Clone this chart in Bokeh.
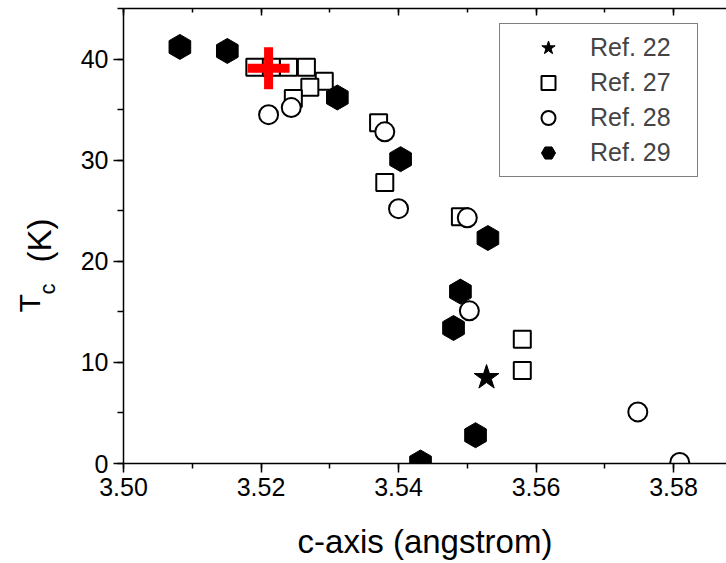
import numpy as np
from bokeh.plotting import figure
from bokeh.layouts import row
from bokeh.models import (Range1d, LinearAxis, SingleIntervalTicker, PrintfTickFormatter,
                          CustomJSTickFormatter, Legend, LegendItem)
from bokeh.core.properties import value
from bokeh.embed import file_html
from bokeh.resources import INLINE

# ---- data (c-axis in angstrom, Tc in K) ----
ref22_c = [3.5528]
ref22_tc = [8.5]

ref27_c = [3.5191, 3.5215, 3.5240, 3.5266, 3.5292, 3.5271, 3.5247,
           3.5371, 3.5380, 3.5490, 3.5580, 3.5580]
ref27_tc = [39.2, 39.2, 39.2, 39.2, 37.8, 37.2, 36.1,
            33.7, 27.8, 24.4, 12.3, 9.2]

ref28_c = [3.5211, 3.5244, 3.5380, 3.5400, 3.5500, 3.5503, 3.5748, 3.5809]
ref28_tc = [34.5, 35.2, 32.8, 25.2, 24.3, 15.1, 5.1, 0.1]

ref29_c = [3.5082, 3.5151, 3.5311, 3.5403, 3.5530, 3.5490, 3.5480, 3.5512, 3.5432]
ref29_tc = [41.2, 40.8, 36.2, 30.1, 22.3, 17.0, 13.4, 2.8, 0.1]

this_c = [3.5211]
this_tc = [39.1]

legend_labels = ["Ref. 22", "Ref. 27", "Ref. 28", "Ref. 29"]
x_label = "c-axis (angstrom)"
y_label_parts = ["T", "c", "(K)"]

FONT = "Liberation Sans"
LEFT_W = 70
H = 563
TOP, BOTTOM = 8, 100

# ---------------- main plot ----------------
p = figure(width=726 - LEFT_W, height=H, output_backend="svg", toolbar_location=None,
           x_range=Range1d(3.50, 3.5877), y_range=Range1d(0, 45),
           min_border_left=123 - LEFT_W, min_border_right=0, min_border_top=TOP,
           min_border_bottom=BOTTOM)
p.outline_line_color = None
p.xgrid.visible = False
p.ygrid.visible = False

xa = p.xaxis[0]
xa.ticker = SingleIntervalTicker(interval=0.02, num_minor_ticks=2)
xa.formatter = PrintfTickFormatter(format="%.2f")
ya = p.yaxis[0]
ya.ticker = SingleIntervalTicker(interval=10, num_minor_ticks=2)

for ax in (xa, ya):
    ax.axis_line_width = 1.5
    ax.axis_line_color = "black"
    ax.major_tick_line_width = 1.5
    ax.minor_tick_line_width = 1.5
    ax.major_tick_line_color = "black"
    ax.minor_tick_line_color = "black"
    ax.major_tick_in = 0
    ax.minor_tick_in = 0
    ax.major_label_text_font = FONT
    ax.major_label_text_font_size = "25px"
    ax.major_label_text_color = "black"
    ax.major_label_standoff = 5
xa.major_tick_out = 9
xa.minor_tick_out = 5
ya.major_tick_out = 10
ya.minor_tick_out = 6

xa.axis_label = x_label
xa.axis_label_text_font = FONT
xa.axis_label_text_font_size = "33px"
xa.axis_label_text_font_style = "normal"
xa.axis_label_text_color = "black"
xa.axis_label_standoff = 24

top = LinearAxis(ticker=SingleIntervalTicker(interval=0.02, num_minor_ticks=2),
                 formatter=CustomJSTickFormatter(code="return ''"),
                 major_label_text_font_size="1px", major_label_standoff=0,
                 major_tick_in=7, major_tick_out=0, minor_tick_in=4, minor_tick_out=0,
                 axis_line_width=1.5, major_tick_line_width=1.5, minor_tick_line_width=1.5)
p.add_layout(top, "above")

r27 = p.scatter(ref27_c, ref27_tc, marker="square", size=17, line_width=2,
                line_color="black", fill_color="white")
r29 = p.scatter(ref29_c, ref29_tc, marker="hex", size=25, angle=np.pi / 2,
                line_color="black", fill_color="black", line_width=1)
r28 = p.scatter(ref28_c, ref28_tc, marker="circle", size=19, line_width=2,
                line_color="black", fill_color="white")
r22 = p.scatter(ref22_c, ref22_tc, marker="star", size=26,
                line_color="black", fill_color="black", line_width=1)
p.scatter(this_c, this_tc, marker="cross", size=42, line_width=9, line_color="red")

legend = Legend(items=[LegendItem(label=legend_labels[0], renderers=[r22]),
                       LegendItem(label=legend_labels[1], renderers=[r27]),
                       LegendItem(label=legend_labels[2], renderers=[r28]),
                       LegendItem(label=legend_labels[3], renderers=[r29])],
                location=(376, 286), margin=0, padding=6, spacing=0,
                glyph_width=84, glyph_height=35, label_height=35, label_width=101,
                label_standoff=0,
                label_text_font=FONT, label_text_font_size="25px",
                border_line_color="black", border_line_width=1.5,
                background_fill_color="white", background_fill_alpha=1.0)
p.add_layout(legend)

# ---------------- y-axis title panel (frame aligned with main frame) ----------------
yl = figure(width=LEFT_W, height=H, output_backend="svg", toolbar_location=None,
            x_range=Range1d(0, LEFT_W), y_range=Range1d(BOTTOM, H - TOP),
            min_border_left=0, min_border_right=0,
            min_border_top=TOP, min_border_bottom=BOTTOM)
yl.axis.visible = False
yl.grid.visible = False
yl.outline_line_color = None
yl.text(x=[29], y=[H - 312], text=[y_label_parts[0]],
        angle=np.pi / 2, text_align="left", text_baseline="alphabetic",
        text_font=value(FONT), text_font_size=value("30px"), text_color="black")
yl.text(x=[47], y=[H - 294], text=[y_label_parts[1]],
        angle=np.pi / 2, text_align="left", text_baseline="alphabetic",
        text_font=value(FONT), text_font_size=value("22px"), text_color="black")
yl.text(x=[39], y=[H - 262], text=[y_label_parts[2]],
        angle=np.pi / 2, text_align="left", text_baseline="alphabetic",
        text_font=value(FONT), text_font_size=value("33px"), text_color="black")

layout = row(yl, p, spacing=0)
open("out.html", "w").write(file_html(layout, INLINE))
